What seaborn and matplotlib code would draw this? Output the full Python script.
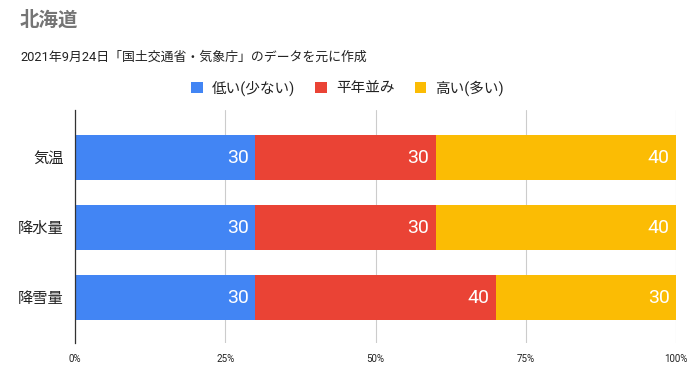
import numpy as np
import pandas as pd
import matplotlib
matplotlib.use("Agg")
import matplotlib.pyplot as plt
import seaborn as sns
from matplotlib.patches import Patch

# data
categories = ["気温", "降水量", "降雪量"]
series_names = ["低い(少ない)", "平年並み", "高い(多い)"]
low_vals = [30, 30, 30]
normal_vals = [30, 30, 40]
high_vals = [40, 40, 30]
x_ticks = [0, 25, 50, 75, 100]
x_tick_labels = ["0%", "25%", "50%", "75%", "100%"]

colors = ["#4285F4", "#EA4335", "#FBBC04"]

sns.set_theme(style="white")
plt.rcParams["font.family"] = ["Roboto", "Noto Sans CJK JP", "DejaVu Sans"]

df = pd.DataFrame({"cat": categories, "low": low_vals,
                   "normal": normal_vals, "high": high_vals})
segs = df[["low", "normal", "high"]].to_numpy()
cum = segs.cumsum(axis=1)

fig = plt.figure(figsize=(6.95, 3.82), dpi=100)
ax = fig.add_axes([0.108, 0.102, 0.865, 0.61])

# draw cumulative totals back to front so they look stacked
for i in reversed(range(3)):
    plot_df = pd.DataFrame({"cat": categories, "val": cum[:, i]})
    sns.barplot(data=plot_df, y="cat", x="val", color=colors[i],
                saturation=1, width=0.64, ax=ax, orient="h", linewidth=0)

# segment value labels, right aligned inside each segment
for row in range(len(categories)):
    for i in range(3):
        ax.text(cum[row, i] - 1.1, row, str(segs[row, i]), ha="right",
                va="center", color="white", fontsize=14,
                family=["Roboto", "DejaVu Sans"])

ax.set_xlim(0, 100)
ax.set_ylim(2.65, -0.68)
ax.set_xticks(x_ticks)
ax.set_xticklabels(x_tick_labels, fontsize=7, color="#222222")
ax.tick_params(axis="x", length=0, pad=8)
ax.tick_params(axis="y", length=0, pad=8, labelsize=11, labelcolor="#222222")
ax.set_xlabel("")
ax.set_ylabel("")
ax.grid(axis="x", color="#cccccc", linewidth=0.8)
ax.set_axisbelow(True)
for s in ["top", "right", "bottom"]:
    ax.spines[s].set_visible(False)
ax.spines["left"].set_color("#333333")
ax.spines["left"].set_linewidth(0.9)
ax.spines["left"].set_zorder(5)

fig.text(20 / 695, 1 - 20 / 382, "北海道", fontsize=14, color="#757575",
         ha="left", va="center", fontweight="bold")
fig.text(20 / 695, 1 - 57 / 382,
         "2021年9月24日「国土交通省・気象庁」のデータを元に作成",
         fontsize=9.3, color="#222222", ha="left", va="center")

handles = [Patch(facecolor=c, edgecolor="none") for c in colors]
fig.legend(handles, series_names, loc="center", ncol=3,
           bbox_to_anchor=(0.5, 1 - 88 / 382), frameon=False, fontsize=10.5,
           handlelength=0.8, handleheight=0.8, handletextpad=0.6,
           columnspacing=1.4, labelcolor="#222222")

fig.savefig("out.png", dpi=100)
